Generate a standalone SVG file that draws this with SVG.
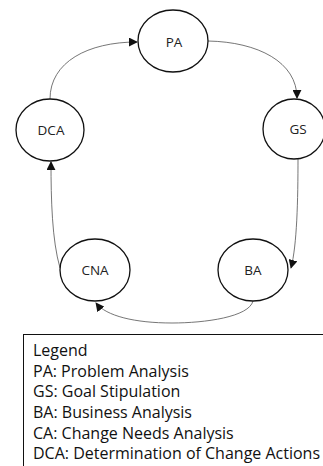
<svg xmlns="http://www.w3.org/2000/svg" width="323" height="466" viewBox="0 0 323 466">
<style>
.node ellipse{fill:#fff;stroke:#111;stroke-width:1.3}
.node text{font-family:"Open Sans","Liberation Sans",sans-serif;font-size:13.5px;fill:#222;text-anchor:middle}
.conn path{fill:none;stroke:#666;stroke-width:0.9}
.legend text{font-family:"Open Sans","Liberation Sans",sans-serif;font-size:16px;fill:#111}
</style>
<defs>
<marker id="arr" viewBox="0 0 10 10" refX="9" refY="5" markerWidth="9" markerHeight="9" markerUnits="userSpaceOnUse" orient="auto">
<path d="M0,0 L10,5 L0,10 Z" fill="#111"/>
</marker>
</defs>
<rect width="323" height="466" fill="#fff"/>
<g class="conn">
<path d="M50 99 C50 62 88 42 137 42" marker-end="url(#arr)"/>
<path d="M208 41 C258 42 297 62 297 98" marker-end="url(#arr)"/>
<path d="M298 158 C298 200 297 245 291 268" marker-end="url(#arr)"/>
<path d="M253 301 C249 317 205 323 172 323 C135 323 106 316 96 303" marker-end="url(#arr)"/>
<path d="M60 268 C52 240 51 200 51 162" marker-end="url(#arr)"/>
</g>
<g id="PA" class="node"><ellipse cx="173" cy="41" rx="35" ry="31"/><text x="174" y="47">PA</text></g>
<g id="GS" class="node"><ellipse cx="294" cy="129" rx="31" ry="30"/><text x="298" y="134">GS</text></g>
<g id="DCA" class="node"><ellipse cx="50" cy="130" rx="34" ry="31"/><text x="51" y="135">DCA</text></g>
<g id="CNA" class="node"><ellipse cx="95" cy="270" rx="35" ry="31"/><text x="95" y="275">CNA</text></g>
<g id="BA" class="node"><ellipse cx="253" cy="270" rx="35" ry="31"/><text x="253" y="275">BA</text></g>
<g id="legend" class="legend">
<rect x="23.5" y="334.5" width="310" height="140" fill="none" stroke="#111" stroke-width="1"/>
<text x="33" y="356">Legend</text>
<text x="33" y="377">PA: Problem Analysis</text>
<text x="33" y="397">GS: Goal Stipulation</text>
<text x="33" y="418">BA: Business Analysis</text>
<text x="33" y="439">CA: Change Needs Analysis</text>
<text x="33" y="459">DCA: Determination of Change Actions</text>
</g>
</svg>
